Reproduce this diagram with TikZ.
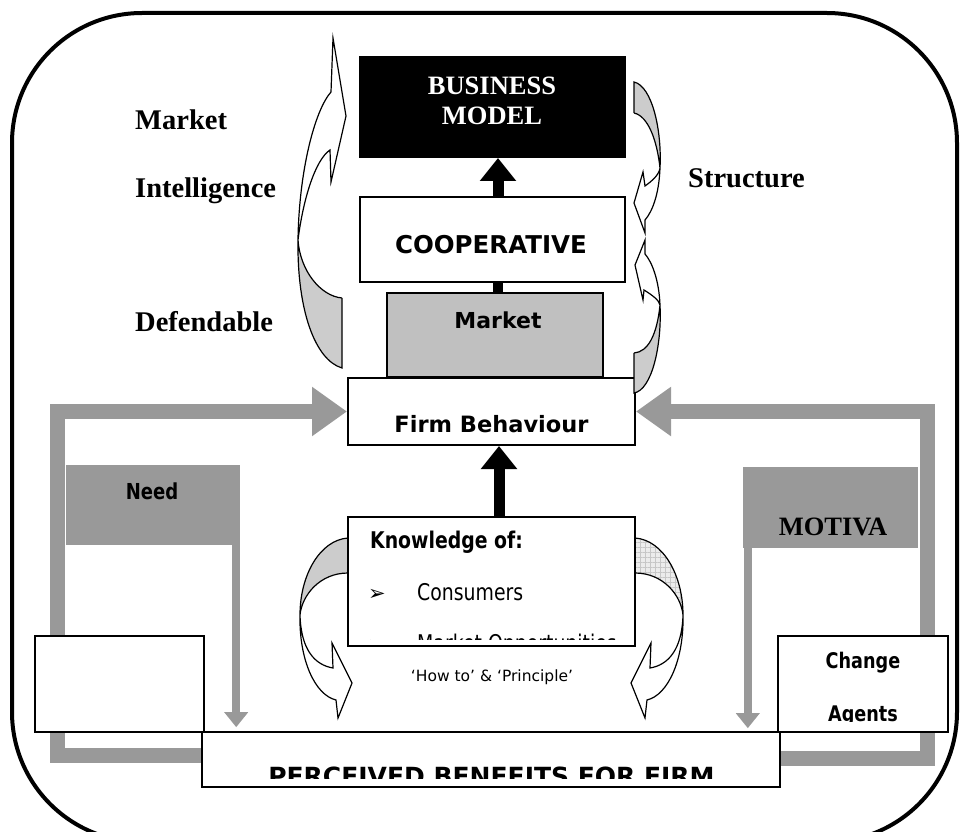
\documentclass[tikz,border=0pt]{standalone}
\usepackage{fontspec}
\setmainfont{Liberation Serif}
\setsansfont{DejaVu Sans}
\newfontfamily\narrowsf[FakeStretch=0.82]{DejaVu Sans}
\usetikzlibrary{arrows.meta, calc, patterns.meta}
\definecolor{flowgray}{HTML}{999999}
\definecolor{boxgray}{HTML}{C0C0C0}
\definecolor{curlgray}{HTML}{CCCCCC}
\definecolor{gridgray}{HTML}{ECECEC}
\tikzset{
  frame/.style={line width=4pt, rounded corners=130pt},
  box/.style={draw, line width=2pt, fill=white, inner sep=0pt},
  flowbox/.style={fill=flowgray, inner sep=0pt},
  upflow/.style={line width=11pt, -{Triangle[width=35pt,length=23pt]}},
  sideflow/.style={draw=flowgray, line width=15pt, line join=miter, -{Triangle[width=47pt,length=35pt]}},
  downflow/.style={draw=flowgray, line width=8pt, -{Triangle[width=23pt,length=15pt]}},
  curl/.style={draw, line width=1.2pt, line join=miter},
  lbl/.style={inner sep=0pt, anchor=base},
  seriflbl/.style={lbl, font=\fontsize{28.5}{30}\selectfont\bfseries},
  sidelbl/.style={seriflbl, anchor=base west},
  boldsf/.style={lbl, font=\fontsize{#1}{#1}\selectfont\sffamily\bfseries},
  narrowbold/.style={lbl, font=\fontsize{#1}{#1}\selectfont\narrowsf\bfseries},
  narrowreg/.style={lbl, font=\fontsize{#1}{#1}\selectfont\narrowsf},
  bulletlbl/.style={lbl, anchor=base west, font=\fontsize{21}{21}\selectfont\sffamily},
}
\begin{document}
\begin{tikzpicture}[x=1pt, y=-1pt]
    \useasboundingbox (0,0) rectangle (962,832);
    \clip (0,0) rectangle (962,832);
    \draw[frame] (12,13) rectangle (957,842);

    % bottom row
    \node[box, minimum width=578pt, minimum height=55pt] (perc) at (491,759.5) {};
    \node[flowbox, minimum width=174pt, minimum height=80pt] (need) at (153,505) {};
    \node[flowbox, minimum width=175pt, minimum height=81pt] (motiva) at (830.5,507.5) {};
    \node[box, minimum width=287pt, minimum height=67pt] (firm) at (491.5,411.5) {};
    \draw[sideflow] ($(perc.west)+(0,-4)$) -| ($(firm.west)+(-290,0)$) -- (firm.west);
    \draw[sideflow] ($(perc.east)+(0,-1)$) -| ($(firm.east)+(291,0)$) -- (firm.east);
    \draw[downflow] ($(need.south east)+(-4,0)$) -- ($(need.south east)+(-4,182)$);
    \draw[downflow] ($(motiva.south west)+(5,0)$) -- ($(motiva.south west)+(5,180)$);
    \node[box, minimum width=578pt, minimum height=55pt] (perc) at (491,759.5) {};
    \node[box, minimum width=169pt, minimum height=96pt] (leftbox) at (119.5,684) {};
    \node[box, minimum width=170pt, minimum height=96pt] (change) at (863,684) {};

    % curled arrows
    \fill[curlgray] (342,298) .. controls (320,296) and (300,270) .. (298,240) .. controls (297,310) and (315,360) .. (342,368) -- cycle;
    \draw[curl] (342,298) -- (342,368) .. controls (315,360) and (297,310) .. (298,240) .. controls (299,170) and (315,110) .. (331,92) -- (333,38) -- (346,116) -- (331,182) -- (330,150) .. controls (315,160) and (303,200) .. (298,240) .. controls (300,270) and (320,296) .. (342,298);
    \fill[curlgray] (634,82) .. controls (652,86) and (662,130) .. (660,168) .. controls (657,140) and (648,116) .. (634,113) -- cycle;
    \draw[curl] (634,113) -- (634,82) .. controls (652,86) and (662,130) .. (660,168) .. controls (659,195) and (652,212) .. (645,220) -- (645,233) -- (634,203) -- (643,172) -- (645,186) .. controls (652,181) and (659,175) .. (660,168) .. controls (657,140) and (648,116) .. (634,113);
    \fill[curlgray] (634,393) .. controls (652,390) and (662,345) .. (660,305) .. controls (657,335) and (648,352) .. (634,353) -- cycle;
    \draw[curl] (634,353) -- (634,393) .. controls (652,390) and (662,345) .. (660,305) .. controls (659,280) and (652,262) .. (645,254) -- (645,240) -- (635,265) -- (643,300) -- (644,290) .. controls (652,295) and (659,300) .. (660,305) .. controls (657,335) and (648,352) .. (634,353);
    \fill[curlgray] (348,538) .. controls (320,540) and (300,575) .. (300,615) .. controls (302,595) and (320,573) .. (348,573) -- cycle;
    \draw[curl] (348,573) -- (348,538) .. controls (320,540) and (300,575) .. (300,615) .. controls (301,650) and (315,665) .. (333,668) -- (332,643) -- (352,683) -- (338,718) -- (336,700) .. controls (315,695) and (299,660) .. (300,615) .. controls (302,595) and (320,573) .. (348,573);
    \begin{scope}[xshift=983pt, xscale=-1]
        \fill[gridgray] (348,538) .. controls (320,540) and (300,575) .. (300,615) .. controls (302,595) and (320,573) .. (348,573) -- cycle;
        \fill[pattern={Hatch[angle=0, distance=5pt, line width=0.4pt]}, pattern color=black!22] (348,538) .. controls (320,540) and (300,575) .. (300,615) .. controls (302,595) and (320,573) .. (348,573) -- cycle;
        \draw[curl] (348,573) -- (348,538) .. controls (320,540) and (300,575) .. (300,615) .. controls (301,650) and (315,665) .. (333,668) -- (332,643) -- (352,683) -- (338,718) -- (336,700) .. controls (315,695) and (299,660) .. (300,615) .. controls (302,595) and (320,573) .. (348,573);
    \end{scope}

    % central stack
    \node[box, fill=black, minimum width=265pt, minimum height=100pt] (bm) at (492.5,107) {};
    \node[box, minimum width=265pt, minimum height=85pt] (coop) at (492.5,239.5) {};
    \node[box, fill=boxgray, minimum width=216pt, minimum height=84pt] (mkt) at (495,335) {};
    \node[box, minimum width=287pt, minimum height=129pt] (know) at (491.5,581.5) {};
    \draw[upflow] ($(coop.north)+(5.5,0)$) -- ($(bm.south)+(5.5,0)$);
    \draw[line width=10pt] ($(mkt.north)+(3,0)$) -- ($(coop.south)+(5.5,0)$);
    \draw[upflow] ($(know.north)+(7.5,0)$) -- ($(firm.south)+(7.5,0)$);

    % texts
    \node[seriflbl, text=white, font=\fontsize{26.5}{30}\selectfont\bfseries] (bmtop) at (492,95) {BUSINESS};
    \node[seriflbl, text=white, font=\fontsize{26.5}{30}\selectfont\bfseries] (bmbot) at (492,125) {MODEL};
    \node[boldsf=24.5] (cooptext) at (491,253) {COOPERATIVE};
    \node[boldsf=22] (mkttext) at (498,328) {Market};
    \node[boldsf=22.5] (firmtext) at (491.5,432) {Firm Behaviour};
    \node[narrowbold=23, anchor=base west] (knowtext) at (370,548) {Knowledge of:};
    \node[bulletlbl] (bulletA) at (368,600) {➢};
    \node[narrowreg=23, anchor=base west] (consumers) at (417,600) {Consumers};
    \begin{scope}
        \clip (know.north west) rectangle ($(know.south east)+(0,-8)$);
        \node[bulletlbl] (bulletB) at (368,651) {➢};
        \node[narrowreg=23, anchor=base west] (opport) at (417,651) {Market Opportunities};
    \end{scope}
    \node[lbl, font=\fontsize{15.5}{15.5}\selectfont\sffamily] (howto) at (492,681) {‘How to’ \& ‘Principle’};
    \node[narrowbold=22] (needtext) at (152,499) {Need};
    \node[seriflbl, font=\fontsize{26.5}{30}\selectfont\bfseries] (motivatext) at (833,535) {MOTIVA};
    \node[narrowbold=21.5] (changetext) at (863,668) {Change};
    \begin{scope}
        \clip (change.north west) rectangle ($(change.south east)+(0,-12)$);
        \node[narrowbold=21.5] (agentstext) at (863,721) {Agents};
    \end{scope}
    \begin{scope}
        \clip (perc.north west) rectangle ($(perc.east)+(0,18.5)$);
        \node[boldsf=25] (perctext) at (491.5,785) {PERCEIVED BENEFITS FOR FIRM};
    \end{scope}
    \node[sidelbl] (mkttop) at (135,130) {Market};
    \node[sidelbl] (intel) at (135,197) {Intelligence};
    \node[sidelbl] (defend) at (135,331) {Defendable};
    \node[sidelbl] (struct) at (688,188) {Structure};
\end{tikzpicture}
\end{document}
